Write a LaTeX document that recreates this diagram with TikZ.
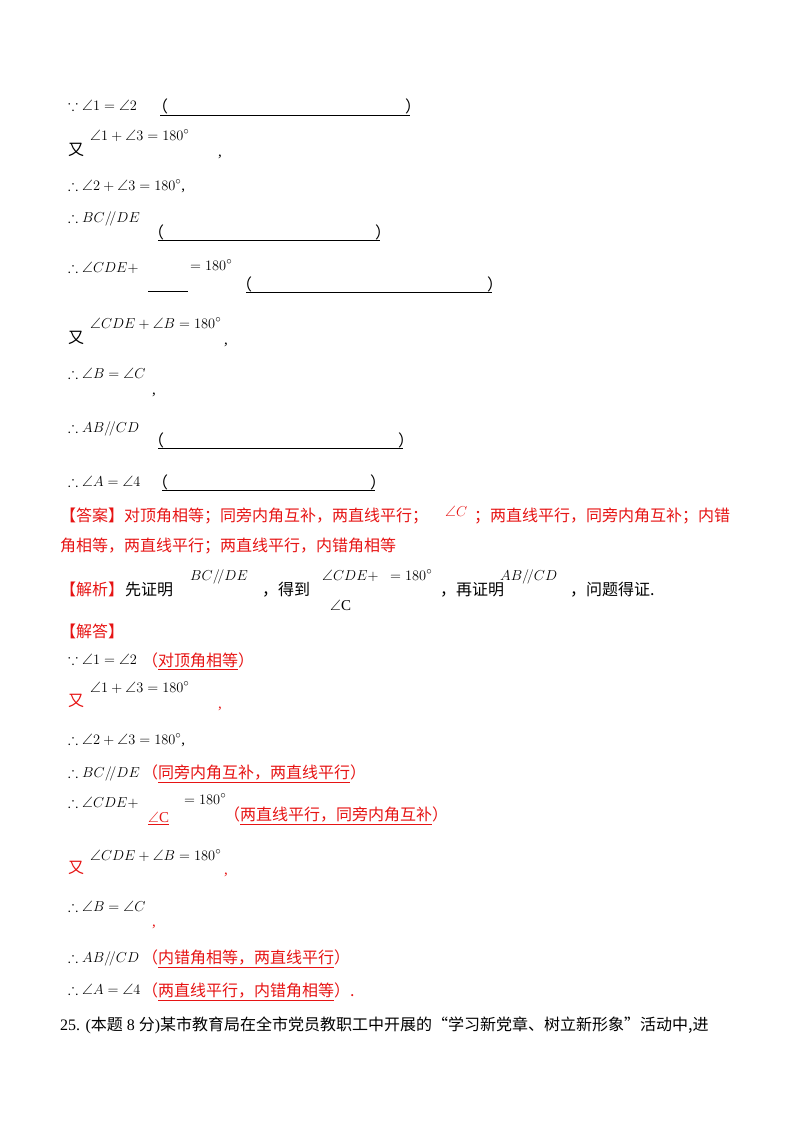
\documentclass[tikz,border=0pt]{standalone}
\usepackage{amssymb}
\usepackage{fontspec}
\setmainfont{Liberation Serif}
\newfontfamily\cjk{Noto Sans CJK SC}
\usepackage{xcolor}
\definecolor{ansred}{RGB}{230,20,20}
\begin{document}
\begin{tikzpicture}[x=1pt,y=-1pt,
  t/.style={anchor=base west,inner sep=0pt,font=\fontsize{15}{17}\selectfont},
  c/.style={anchor=base west,inner sep=0pt,font=\fontsize{16}{18}\selectfont\cjk},
  r/.style={c,text=ansred},
  blank/.style={line width=0.6pt}]
\useasboundingbox (0,0) rectangle (800,1132);
% ---- question part ----
\node[t] (q1) at (68,110) {$\because\angle 1=\angle 2$};
\node[c] (q1p) at (152,112) {（};
\node[c] (q1q) at (405,112) {）};
\draw[blank] (160,115) -- (410,115);
\node[c] (q2a) at (68,155) {又};
\node[t] (q2b) at (90,140) {$\angle 1+\angle 3=180^\circ$};
\node[t] (q2c) at (218,156) {,};
\node[t] (q3) at (68,190) {$\therefore\angle 2+\angle 3=180^\circ$,};
\node[t] (q4) at (68,222) {$\therefore BC/\!/DE$};
\node[c] (q4p) at (148,238) {（};
\draw[blank] (158,240) -- (380,240);
\node[c] (q4q) at (375,238) {）};
\node[t] (q5) at (68,272) {$\therefore\angle CDE+$};
\draw[blank] (148,291) -- (188,291);
\node[t] (q5b) at (190,270) {$=180^\circ$};
\node[c] (q5p) at (236,290) {（};
\draw[blank] (246,292) -- (492,292);
\node[c] (q5q) at (487,290) {）};
\node[c] (q6a) at (68,343) {又};
\node[t] (q6b) at (90,328) {$\angle CDE+\angle B=180^\circ$};
\node[t] (q6c) at (224,344) {,};
\node[t] (q7) at (68,378) {$\therefore\angle B=\angle C$};
\node[t] (q7c) at (152,394) {,};
\node[t] (q8) at (68,432) {$\therefore AB/\!/CD$};
\node[c] (q8p) at (148,446) {（};
\draw[blank] (158,448) -- (403,448);
\node[c] (q8q) at (398,446) {）};
\node[t] (q9) at (68,486) {$\therefore\angle A=\angle 4$};
\node[c] (q9p) at (152,488) {（};
\draw[blank] (162,490) -- (375,490);
\node[c] (q9q) at (370,488) {）};
% ---- answer ----
\node[r] (a1) at (60,521) {【答案】对顶角相等；同旁内角互补，两直线平行；};
\node[t,text=ansred] (a1b) at (445,516) {$\angle C$};
\node[r] (a1c) at (474,521) {；两直线平行，同旁内角互补；内错};
\node[r] (a2) at (60,551) {角相等，两直线平行；两直线平行，内错角相等};
\node[r] (j1) at (60,595) {【解析】};
\node[c] (j2) at (125,595) {先证明};
\node[t] (j3) at (190,580) {$BC/\!/DE$};
\node[c] (j4) at (262,595) {，得到};
\node[t] (j5) at (322,580) {$\angle CDE+$};
\node[t] (j6) at (330,610) {$\angle$C};
\node[t] (j7) at (390,580) {$=180^\circ$};
\node[c] (j8) at (440,595) {，再证明};
\node[t] (j9) at (500,580) {$AB/\!/CD$};
\node[c] (j10) at (570,595) {，问题得证.};
\node[r] (s0) at (60,637) {【解答】};
% ---- solution ----
\node[t] (s1) at (68,664) {$\because\angle 1=\angle 2$};
\node[r] (s1r) at (142,666) {（\underline{对顶角相等}）};
\node[r] (s2a) at (68,706) {又};
\node[t] (s2b) at (90,692) {$\angle 1+\angle 3=180^\circ$};
\node[t,text=ansred] (s2c) at (218,708) {,};
\node[t] (s3) at (68,744) {$\therefore\angle 2+\angle 3=180^\circ$,};
\node[r] (s4r) at (142,778) {（\underline{同旁内角互补，两直线平行}）};
\node[t] (s4) at (68,777) {$\therefore BC/\!/DE$};
\node[t] (s5) at (68,807) {$\therefore\angle CDE+$};
\node[t,text=ansred] (s5c) at (148,822) {\underline{$\angle$C}};
\node[t] (s5b) at (184,804) {$=180^\circ$};
\node[r] (s5r) at (224,820) {（\underline{两直线平行，同旁内角互补}）};
\node[r] (s6a) at (68,873) {又};
\node[t] (s6b) at (90,860) {$\angle CDE+\angle B=180^\circ$};
\node[t,text=ansred] (s6c) at (224,874) {,};
\node[t] (s7) at (68,911) {$\therefore\angle B=\angle C$};
\node[t,text=ansred] (s7c) at (152,926) {,};
\node[t] (s8) at (68,962) {$\therefore AB/\!/CD$};
\node[r] (s8r) at (142,963) {（\underline{内错角相等，两直线平行}）};
\node[t] (s9) at (68,994) {$\therefore\angle A=\angle 4$};
\node[r] (s9r) at (142,996) {（\underline{两直线平行，内错角相等}）.};
\node[c] (q25) at (60,1030) {\rmfamily 25. (\cjk 本题\rmfamily{} 8 \cjk 分\rmfamily)\cjk 某市教育局在全市党员教职工中开展的“学习新党章、树立新形象”活动中,进};
\end{tikzpicture}
\end{document}
